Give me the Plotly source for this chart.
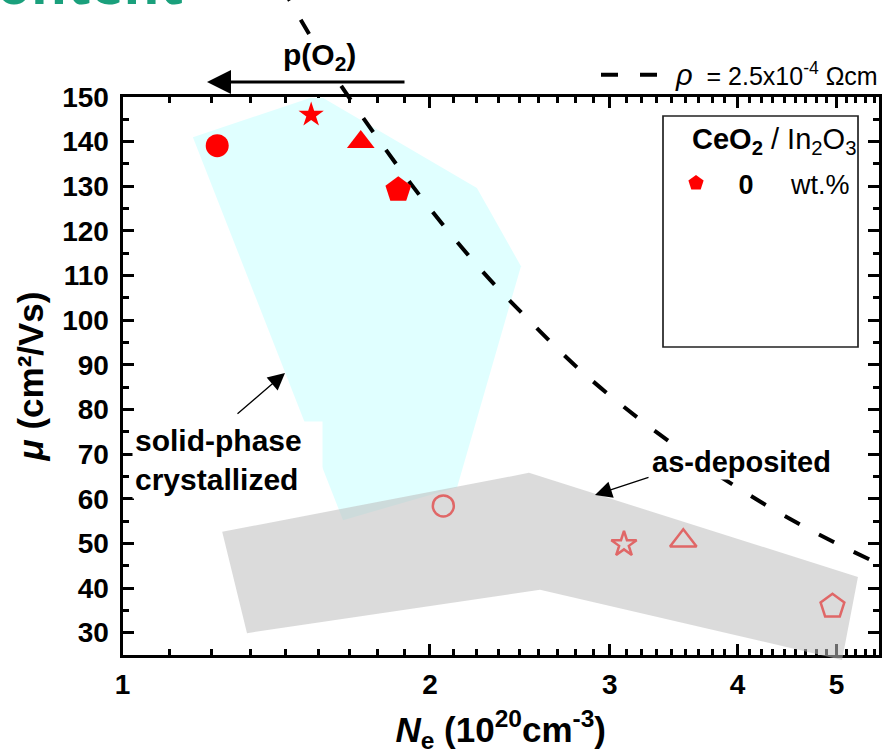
import plotly.graph_objects as go

# ---------------- data ----------------
# solid-phase crystallized (filled), ordered pentagon, triangle, star, circle
ne_spc = [1.862, 1.711, 1.53, 1.238]
mu_spc = [129.2, 139.9, 146.0, 139.1]
# as-deposited (open)
ne_asd = [4.955, 3.54, 3.097, 2.061]
mu_asd = [35.9, 50.6, 49.8, 58.4]
sym_spc = ["pentagon", "triangle-up", "star", "circle"]
sym_asd = ["pentagon-open", "triangle-up-open", "star-open", "circle-open"]

# shaded regions
spc_region_ne = [1.172, 1.526, 1.572, 2.223, 2.455, 2.126, 1.644]
spc_region_mu = [141.0, 149.8, 149.8, 129.6, 112.1, 62.6, 55.2]
asd_region_ne = [1.252, 2.500, 5.248, 5.063, 2.563, 1.324]
asd_region_mu = [52.6, 65.8, 42.5, 23.9, 39.6, 29.9]

# rho = 2.5e-4 Ohm cm line
rho_ne = [1.43, 1.6, 1.8, 2.0, 2.25, 2.5, 2.8, 3.2, 3.6, 4.0, 4.5, 5.0, 5.6]
rho_mu = [175.0, 156.0, 139.0, 125.0, 111.0, 100.0, 89.0, 78.0, 69.4, 62.5, 55.5, 50.0, 44.6]

x_ticks = [1, 2, 3, 4, 5]
y_ticks = [30, 40, 50, 60, 70, 80, 90, 100, 110, 120, 130, 140, 150]
y_minor = [25, 35, 45, 55, 65, 75, 85, 95, 105, 115, 125, 135, 145]
x_minor = [b + k / 9 for b in [1, 2, 3, 4, 5] for k in range(1, 9) if b + k / 9 < 5.5]

# ---------------- layout geometry ----------------
W, H = 884, 754
PL, PR, PT, PB = 122.5, 879.0, 97.0, 655.0
XLOG_MAX = 0.7406
Y0, Y1 = 25.0, 150.0
per_px = (Y1 - Y0) / (PB - PT)
y2_top = Y1 + PT * per_px
y2_bot = Y0 - (H - PB) * per_px

FONT = "Liberation Sans, Arial, sans-serif"
RED = "#ff0000"
LRED = "#e06767"
NB = "\u00a0"


def px(x):
    return x / W


def py(y):
    return 1 - y / H


fig = go.Figure()

# empty trace so that the framed x/y subplot exists
fig.add_trace(go.Scatter(x=[], y=[], xaxis="x", yaxis="y", showlegend=False, hoverinfo="skip"))

fig.add_trace(go.Scatter(x=spc_region_ne, y=spc_region_mu, mode="lines", fill="toself",
                         fillcolor="#e0ffff", line=dict(width=0), showlegend=False,
                         hoverinfo="skip", xaxis="x", yaxis="y2"))
fig.add_trace(go.Scatter(x=asd_region_ne, y=asd_region_mu, mode="lines", fill="toself",
                         fillcolor="rgba(190,190,190,0.56)", line=dict(width=0), showlegend=False,
                         hoverinfo="skip", xaxis="x", yaxis="y2"))
fig.add_trace(go.Scatter(x=rho_ne, y=rho_mu, mode="lines", line_shape="spline",
                         line=dict(color="black", width=4, dash="17px,22px"),
                         name=("<span style='font-size:29px'><i>ρ</i></span>" + NB * 2 + "="
                               + NB + "2.5x10<sup>-4</sup>" + NB + "Ωcm"),
                         legend="legend2", xaxis="x", yaxis="y2"))
fig.add_trace(go.Scatter(x=ne_asd, y=mu_asd, mode="markers",
                         marker=dict(symbol=sym_asd, size=[25, 23, 19, 21], color=LRED,
                                     opacity=1, line=dict(color=LRED, width=2.5)),
                         showlegend=False, cliponaxis=False, xaxis="x", yaxis="y2"))
fig.add_trace(go.Scatter(x=ne_spc, y=mu_spc, mode="markers",
                         marker=dict(symbol=sym_spc, size=[27, 24, 19, 23], color=RED,
                                     opacity=1, line=dict(width=0)),
                         name=NB * 3 + "<b>0</b>" + NB * 5 + "wt.%",
                         legend="legend", cliponaxis=False, xaxis="x", yaxis="y2"))

axis_common = dict(showgrid=False, zeroline=False, showline=True, linewidth=3, linecolor="black",
                   ticks="inside", ticklen=11, tickwidth=3, tickcolor="black", mirror="ticks",
                   tickfont=dict(family=FONT, size=28, color="black", weight="bold"))

fig.update_layout(
    width=W, height=H,
    margin=dict(l=0, r=0, t=0, b=0, autoexpand=False),
    paper_bgcolor="white", plot_bgcolor="rgba(0,0,0,0)",
    font=dict(family=FONT, color="black"),
    xaxis=dict(type="log", range=[0, XLOG_MAX], domain=[px(PL), px(PR)], anchor="y",
               tickvals=x_ticks, ticktext=[str(v) for v in x_ticks],
               minor=dict(tickvals=x_minor, ticks="inside", ticklen=6, tickwidth=2.5,
                          tickcolor="black"),
               title=dict(text="<i>N</i><sub>e</sub> (10<sup>20</sup>cm<sup>-3</sup>)",
                          font=dict(size=35, weight="bold"), standoff=20),
               ticklabelstandoff=2,
               **axis_common),
    yaxis=dict(range=[Y0, Y1], domain=[py(PB), py(PT)], anchor="x",
               tickvals=y_ticks,
               minor=dict(tickvals=y_minor, ticks="inside", ticklen=6, tickwidth=2.5,
                          tickcolor="black"),
               title=dict(text="<i>μ</i> (cm²/Vs)", font=dict(size=35, weight="bold"),
                          standoff=8),
               ticklabelstandoff=5,
               **axis_common),
    yaxis2=dict(range=[y2_bot, y2_top], domain=[0, 1], anchor="x", visible=False),
    legend=dict(x=px(676), y=py(159), xanchor="left", yanchor="top",
                bgcolor="rgba(0,0,0,0)", borderwidth=0,
                font=dict(size=27)),
    legend2=dict(x=px(884), y=py(75), xanchor="right", yanchor="middle",
                 bgcolor="rgba(0,0,0,0)", borderwidth=0, itemwidth=70,
                 font=dict(size=25)),
    showlegend=True,
)

# legend frame
fig.add_shape(type="rect", xref="paper", yref="paper", x0=px(663), x1=px(858),
              y0=py(347), y1=py(116), line=dict(color="#222222", width=1.7))

ann = []
ann.append(dict(text="Content", x=px(186), y=py(22), xref="paper", yref="paper",
                xanchor="right", yanchor="bottom", showarrow=False,
                font=dict(family="Open Sans", size=55, color="#1aa07c", weight="bold")))
ann.append(dict(text="<b>CeO<sub>2</sub></b> / In<sub>2</sub>O<sub>3</sub>", x=px(858),
                y=py(141), xref="paper", yref="paper", xanchor="right", yanchor="middle",
                showarrow=False, font=dict(size=29)))
ann.append(dict(text="<b>p(O<sub>2</sub>)</b>", x=px(319), y=py(57), xref="paper", yref="paper",
                xanchor="center", yanchor="middle", showarrow=False, font=dict(size=30),
                bgcolor="white"))
ann.append(dict(text="", x=px(207), y=py(82), xref="paper", yref="paper", ax=199, ay=0,
                showarrow=True, arrowhead=2, arrowsize=1.6, arrowwidth=3, arrowcolor="black"))
ann.append(dict(text="<b>solid-phase<br>crystallized</b>", x=px(132), y=py(421), xref="paper",
                yref="paper", xanchor="left", yanchor="top", align="left", showarrow=False,
                width=185, borderpad=2, bgcolor="white", font=dict(size=30)))
ann.append(dict(text="", x=px(285), y=py(373), xref="paper", yref="paper", ax=-49, ay=42,
                showarrow=True, arrowhead=2, arrowsize=2.6, arrowwidth=1.3, arrowcolor="black"))
ann.append(dict(text="<b>as-deposited</b>", x=px(650), y=py(462), xref="paper", yref="paper",
                xanchor="left", yanchor="middle", showarrow=False, font=dict(size=29),
                bgcolor="white"))
ann.append(dict(text="", x=px(595), y=py(495), xref="paper", yref="paper", ax=55, ay=-18,
                showarrow=True, arrowhead=2, arrowsize=2.6, arrowwidth=1.3, arrowcolor="black"))
fig.update_layout(annotations=ann)

fig.write_html("out.html", config={"displayModeBar": False},
               post_script="document.body.style.margin='0px';")
